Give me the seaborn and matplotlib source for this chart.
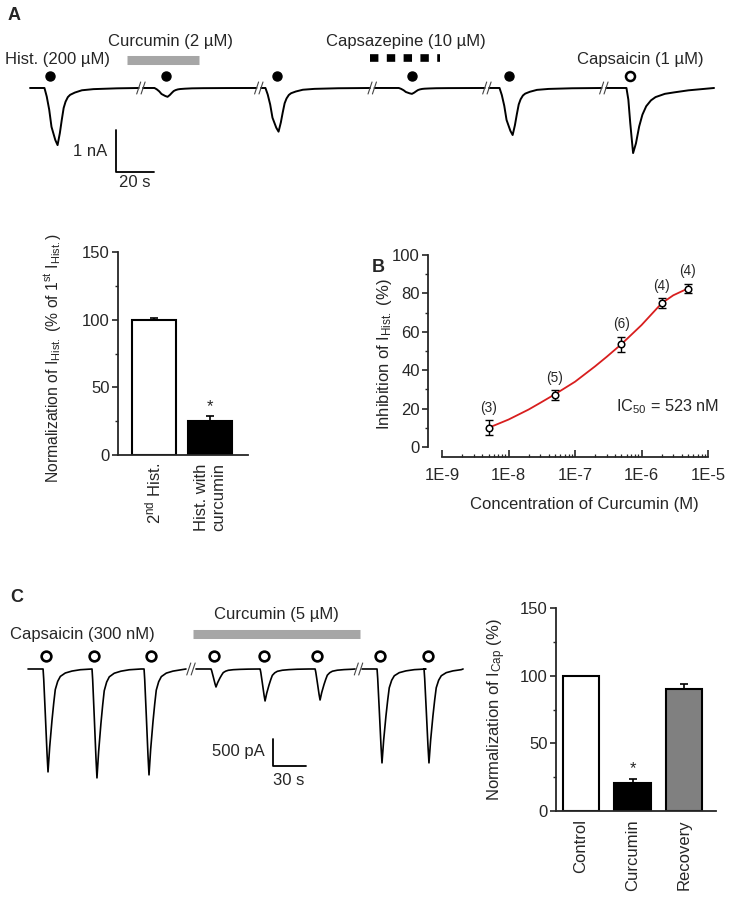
import numpy as np
import matplotlib
matplotlib.use("Agg")
import matplotlib.pyplot as plt
import seaborn as sns

# ---------------- data ----------------
# Panel A trace: sweeps (s), response peaks (s), amplitudes (nA)
sweeps_a = [(0, 57.2), (59.5, 119.2), (121.6, 178.9), (181.3, 239.3), (241.6, 300.8), (303.2, 360)]
peaks_a = [14.5, 72.4, 130.8, 201, 254, 317.4]
amps_a = [1.36, 0.21, 1.04, 0.14, 1.12, 1.55]
kind_a = ["hist", "hist", "hist", "hist", "hist", "cap"]
marks_a = [10.5, 71.6, 130, 201, 252.1, 315.8]

# response waveforms (time from peak in s, fraction of peak)
hist_t = [-6.9, -5.7, -4.4, -3.2, -1.2, 0, 1.2, 2.2, 3.2, 4.2, 5.4, 6.6, 9.1, 12.8, 18.9, 31.3]
hist_f = [0, 0.15, 0.38, 0.68, 0.91, 1, 0.79, 0.56, 0.35, 0.24, 0.16, 0.12, 0.08, 0.04, 0.02, 0.006]
cap_t = [-3.5, -2.5, -1.5, -0.5, 0, 1.5, 3.2, 4.9, 6.9, 9.4, 11.8, 16.7, 21.7, 29.1, 42.6]
cap_f = [0, 0.18, 0.54, 0.85, 1, 0.85, 0.59, 0.41, 0.28, 0.19, 0.14, 0.09, 0.067, 0.036, 0.0]

# Panel A bars
bar_a_labels = ["2$^{\\mathregular{nd}}$ Hist.", "Hist. with\ncurcumin"]
bar_a_vals = [100, 25]
bar_a_err = [1.5, 3.5]
bar_a_colors = ["white", "black"]

# Panel B concentration-response
conc = [5e-9, 5e-8, 5e-7, 2e-6, 5e-6]
inhib = [10, 27, 53.5, 75, 82.5]
inhib_sem = [4, 2.5, 4, 2.5, 2.5]
n_cells = [3, 5, 6, 4, 4]
fit_conc = [5e-9, 1e-8, 2e-8, 3e-8, 5e-8, 1e-7, 2e-7, 3e-7, 5e-7, 1e-6, 2e-6, 3e-6, 5e-6]
fit_inhib = [10, 14.3, 19.5, 23, 27.5, 34, 42, 47, 53.6, 63.5, 74.8, 79, 82.6]

# Panel C trace (s, pA)
sweeps_c = [(0, 143.6), (152.7, 297.3), (303.6, 395.5)]
peaks_c = [18.2, 62.7, 110, 170.9, 215.5, 265.5, 321.8, 364.5]
amps_c = [1906, 2017, 1961, 333, 592, 574, 1739, 1739]
marks_c = [16.4, 60, 111.8, 169.1, 214.5, 262.7, 320, 363.6]
capc_t = [-4.5, -3.9, -2.5, -0.9, 0, 1.5, 3.6, 5.2, 6.6, 8.8, 11.2, 15.7, 21.8, 29.4, 40]
capc_f = [0, 0.10, 0.43, 0.82, 1, 0.76, 0.50, 0.33, 0.2, 0.12, 0.072, 0.039, 0.02, 0.007, 0]

# Panel C bars
bar_c_labels = ["Control", "Curcumin", "Recovery"]
bar_c_vals = [100, 21, 90.5]
bar_c_err = [0, 2.7, 3.5]
bar_c_colors = ["white", "black", "#808080"]

# ---------------- style ----------------
sns.set_style("ticks")
plt.rcParams["font.family"] = ["Liberation Sans", "DejaVu Sans"]
plt.rcParams["mathtext.fontset"] = "custom"
plt.rcParams["mathtext.rm"] = "Liberation Sans"
plt.rcParams["mathtext.it"] = "Liberation Sans:italic"
FS = 12

W, H = 734, 899
fig = plt.figure(figsize=(W / 100, H / 100), dpi=100)


def px_axes(x0, y0, x1, y1):
    return fig.add_axes([x0 / W, 1 - y1 / H, (x1 - x0) / W, (y1 - y0) / H])


def build_sweep(start, end, peaks, amps, shapes):
    t, y = [start], [0.0]
    for p, a, (tt, ff) in zip(peaks, amps, shapes):
        if not (start <= p <= end):
            continue
        for dt, f in zip(tt, ff):
            if start < p + dt < end:
                t.append(p + dt)
                y.append(-a * f)
    t.append(end)
    y.append(0.0)
    return t, y


def slash(ax, x, y, h=6):
    px, py = ax.transData.transform((x, y))
    inv = ax.transData.inverted()
    for dx in (-2.2, 2.2):
        pts = inv.transform([(px + dx - 2, py - h), (px + dx + 2, py + h)])
        ax.plot(pts[:, 0], pts[:, 1], color="#444444", lw=0.8)


def style_bar_axes(ax):
    for s in ("top", "right"):
        ax.spines[s].set_visible(False)
    for s in ("left", "bottom"):
        ax.spines[s].set_linewidth(1.3)
    ax.set_ylim(0, 150)
    ax.set_yticks([0, 50, 100, 150])
    ax.set_yticks([25, 75, 125], minor=True)
    ax.tick_params(axis="y", which="major", length=4, width=1.2, labelsize=FS, pad=2)
    ax.tick_params(axis="y", which="minor", length=2.5, width=1)
    ax.tick_params(axis="x", length=0, labelsize=FS, pad=6)
    ax.set_xlabel("")


# ---------------- Panel A trace ----------------
axA = px_axes(0, 0, 734, 200)
axA.set_xlim(-15.8, 370.5)
axA.set_ylim(-2.667, 2.095)
axA.axis("off")
shapes_a = [(hist_t, hist_f) if k == "hist" else (cap_t, cap_f) for k in kind_a]
for s, e in sweeps_a:
    t, y = build_sweep(s, e, peaks_a, amps_a, shapes_a)
    sns.lineplot(x=t, y=y, ax=axA, color="black", linewidth=1.4, estimator=None, sort=False)
for (s0, e0), (s1, e1) in zip(sweeps_a[:-1], sweeps_a[1:]):
    slash(axA, (e0 + s1) / 2, 0)
for m, k in zip(marks_a, kind_a):
    if k == "hist":
        axA.plot(m, 0.286, "o", ms=6.5, color="black")
    else:
        axA.plot(m, 0.286, "o", ms=6.5, mfc="white", mec="black", mew=1.8)
axA.plot([51.05, 88.9], [0.667, 0.667], color="#a6a6a6", lw=6.5, solid_capstyle="butt")
axA.plot([179, 215.8], [0.72, 0.72], color="black", lw=5.5, linestyle=(0, (1.1, 1.1)))
axA.text(-13.2, 0.667, "Hist. (200 µM)", fontsize=FS, va="center", ha="left")
axA.text(73.7, 1.095, "Curcumin (2 µM)", fontsize=FS, va="center", ha="center")
axA.text(197.9, 1.095, "Capsazepine (10 µM)", fontsize=FS, va="center", ha="center")
axA.text(321, 0.667, "Capsaicin (1 µM)", fontsize=FS, va="center", ha="center")
axA.plot([45.3, 45.3, 65.3], [-1.0, -2.0, -2.0], color="black", lw=1.3)
axA.text(40.5, -1.52, "1 nA", fontsize=FS, va="center", ha="right")
axA.text(55.3, -2.24, "20 s", fontsize=FS, va="center", ha="center")
fig.text(8 / W, 1 - 15 / H, "A", fontsize=13, fontweight="bold", va="center", ha="left")

# ---------------- Panel A bars ----------------
axAb = px_axes(118, 252, 248, 455)
sns.barplot(x=bar_a_labels, y=bar_a_vals, hue=bar_a_labels, palette=bar_a_colors,
            edgecolor="black", linewidth=1.5, width=0.79, saturation=1, legend=False, ax=axAb)
axAb.errorbar(range(len(bar_a_vals)), bar_a_vals, yerr=[[0] * 2, bar_a_err], fmt="none",
              ecolor="black", elinewidth=1.2, capsize=3, capthick=1.2, zorder=3)
axAb.set_xlim(-0.64, 1.68)
style_bar_axes(axAb)
axAb.set_xticks(range(len(bar_a_labels)))
axAb.set_xticklabels(bar_a_labels, rotation=90, va="top", ha="center", multialignment="right")
axAb.annotate("*", (1, bar_a_vals[1] + bar_a_err[1]), xytext=(0, 2), textcoords="offset points",
              ha="center", va="bottom", fontsize=FS)
axAb.set_ylabel("Normalization of I$_{\\mathregular{Hist.}}$ (% of 1$^{\\mathregular{st}}$ I$_{\\mathregular{Hist.}}$)",
                fontsize=11.3)
axAb.yaxis.set_label_coords(-0.42, 0.48)

# ---------------- Panel B ----------------
axB = px_axes(428, 255, 708, 457)
axB.set_xscale("log")
sns.lineplot(x=fit_conc, y=fit_inhib, ax=axB, color="#d81e1e", linewidth=1.3, estimator=None, sort=False)
axB.errorbar(conc, inhib, yerr=inhib_sem, fmt="none", ecolor="black", elinewidth=1,
             capsize=3.2, capthick=1, zorder=3)
sns.scatterplot(x=conc, y=inhib, ax=axB, marker="o", s=22, facecolor="white",
                edgecolor="black", linewidth=1.1, zorder=4)
for c, v, e, n in zip(conc, inhib, inhib_sem, n_cells):
    axB.annotate(f"({n})", (c, v + e), xytext=(0, 4), textcoords="offset points",
                 ha="center", va="bottom", fontsize=9.8)
axB.set_xlim(6.15e-10, 1e-5)
axB.set_ylim(-5.2, 100)
for s in ("top", "right"):
    axB.spines[s].set_visible(False)
axB.spines["left"].set_bounds(0, 100)
axB.spines["bottom"].set_bounds(1e-9, 1e-5)
axB.spines["left"].set_linewidth(1.3)
axB.spines["bottom"].set_linewidth(1.3)
axB.set_yticks(range(0, 101, 20))
axB.set_yticks(range(10, 100, 20), minor=True)
axB.tick_params(axis="y", which="major", length=4, width=1.2, labelsize=FS, pad=2)
axB.tick_params(axis="y", which="minor", length=2.5, width=1)
xt = [1e-9, 1e-8, 1e-7, 1e-6, 1e-5]
axB.set_xticks(xt)
axB.set_xticklabels(["1E-9", "1E-8", "1E-7", "1E-6", "1E-5"])
axB.set_xticks([m * d for d in xt[:-1] for m in range(2, 10)], minor=True)
axB.set_xticklabels([], minor=True)
axB.tick_params(axis="x", which="major", direction="in", length=5, width=1.2, labelsize=FS, pad=8)
axB.tick_params(axis="x", which="minor", direction="in", length=2.5, width=0.9)
axB.set_xlabel("Concentration of Curcumin (M)", fontsize=FS)
axB.xaxis.set_label_coords(0.56, -0.2)
axB.set_ylabel("Inhibition of I$_{\\mathregular{Hist.}}$ (%)", fontsize=FS)
axB.yaxis.set_label_coords(-0.12, 0.51)
axB.text(2.5e-6, 20.8, "IC$_{\\mathregular{50}}$ = 523 nM", fontsize=11.7, ha="center", va="center")
fig.text(378 / W, 1 - 267 / H, "B", fontsize=13, fontweight="bold", va="center", ha="center")

# ---------------- Panel C trace ----------------
axC = px_axes(0, 580, 470, 800)
axC.set_xlim(-25.45, 401.8)
axC.set_ylim(-2426, 1648)
axC.axis("off")
shapes_c = [(capc_t, capc_f)] * len(peaks_c)
for s, e in sweeps_c:
    t, y = build_sweep(s, e, peaks_c, amps_c, shapes_c)
    sns.lineplot(x=t, y=y, ax=axC, color="black", linewidth=1.2, estimator=None, sort=False)
for (s0, e0), (s1, e1) in zip(sweeps_c[:-1], sweeps_c[1:]):
    slash(axC, (e0 + s1) / 2, 0)
for m in marks_c:
    axC.plot(m, 240, "o", ms=7, mfc="white", mec="black", mew=1.9)
axC.plot([150, 301.8], [648, 648], color="#a6a6a6", lw=6.5, solid_capstyle="butt")
axC.text(-16.4, 648, "Capsaicin (300 nM)", fontsize=FS, va="center", ha="left")
axC.text(225.5, 1000, "Curcumin (5 µM)", fontsize=FS, va="center", ha="center")
axC.plot([222.7, 222.7, 252.7], [-1296, -1796, -1796], color="black", lw=1.3)
axC.text(215.5, -1537, "500 pA", fontsize=FS, va="center", ha="right")
axC.text(237.3, -2056, "30 s", fontsize=FS, va="center", ha="center")
fig.text(10 / W, 1 - 597 / H, "C", fontsize=13, fontweight="bold", va="center", ha="left")

# ---------------- Panel C bars ----------------
axCb = px_axes(556, 608, 716, 811)
sns.barplot(x=bar_c_labels, y=bar_c_vals, hue=bar_c_labels, palette=bar_c_colors,
            edgecolor="black", linewidth=1.5, width=0.7, saturation=1, legend=False, ax=axCb)
axCb.errorbar([1, 2], bar_c_vals[1:], yerr=[[0, 0], bar_c_err[1:]], fmt="none",
              ecolor="black", elinewidth=1.2, capsize=3, capthick=1.2, zorder=3)
axCb.set_xlim(-0.485, 2.62)
style_bar_axes(axCb)
axCb.set_xticks(range(3))
axCb.set_xticklabels(bar_c_labels, rotation=90, va="top", ha="center")
axCb.annotate("*", (1, bar_c_vals[1] + bar_c_err[1]), xytext=(0, 2), textcoords="offset points",
              ha="center", va="bottom", fontsize=FS)
axCb.set_ylabel("Normalization of I$_{\\mathregular{Cap}}$ (%)", fontsize=FS)
axCb.yaxis.set_label_coords(-0.3, 0.5)

fig.savefig("out.png", dpi=100)
